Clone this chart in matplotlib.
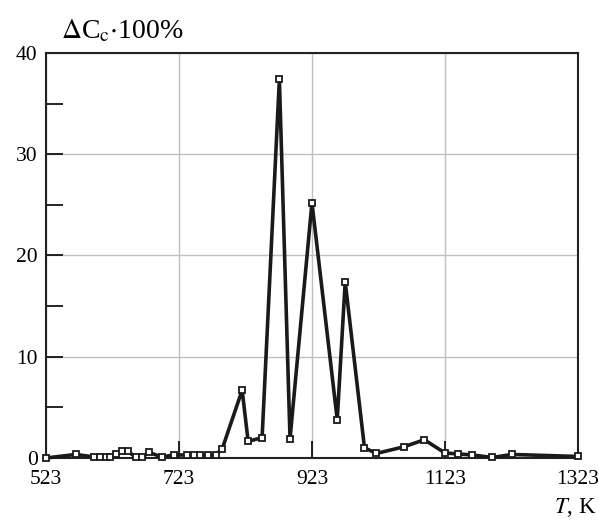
import numpy as np
import matplotlib.pyplot as plt
from matplotlib.ticker import MultipleLocator

# Temperature, K
temp = [523, 568, 595, 604, 613, 620, 629, 637, 646, 658, 668, 678, 697,
        715, 735, 745, 755, 767, 778, 788, 818, 827, 848, 874, 890, 923,
        961, 973, 1002, 1020, 1061, 1092, 1123, 1142, 1164, 1194, 1224, 1323]
# Delta C_c * 100 %
dcc = [0.0, 0.35, 0.1, 0.1, 0.1, 0.1, 0.35, 0.65, 0.65, 0.1, 0.1, 0.55, 0.1,
       0.3, 0.3, 0.3, 0.3, 0.3, 0.3, 0.9, 6.7, 1.65, 2.0, 37.4, 1.9, 25.2,
       3.8, 17.4, 1.0, 0.45, 1.1, 1.8, 0.5, 0.4, 0.3, 0.05, 0.35, 0.15]
xticks = [523, 723, 923, 1123, 1323]
yticks = [0, 10, 20, 30, 40]

plt.rcParams['font.family'] = ['Liberation Serif', 'DejaVu Serif']
plt.rcParams['mathtext.fontset'] = 'stix'

fig = plt.figure(figsize=(5.99, 5.23), dpi=100)
ax = fig.add_axes([0.0768, 0.1243, 0.888, 0.7744])

ax.plot(temp, dcc, color='#1a1a1a', lw=2.6, marker='s', markersize=5,
        markerfacecolor='white', markeredgecolor='#1a1a1a', markeredgewidth=1.3,
        clip_on=False, zorder=3)

ax.set_xlim(523, 1323)
ax.set_ylim(0, 40)
ax.set_xticks(xticks)
ax.set_yticks(yticks)
ax.yaxis.set_minor_locator(MultipleLocator(5))
ax.grid(True, which='major', color='#c0c0c0', lw=1.0)
ax.tick_params(which='major', direction='in', length=12, width=1.2,
               labelsize=15.5, pad=6)
ax.tick_params(which='minor', direction='in', length=12, width=1.2)
ax.tick_params(axis='x', pad=9)
for s in ax.spines.values():
    s.set_linewidth(1.5)
    s.set_color('#222222')

fig.text(0.102, 0.94, r'$\Delta$C$_\mathrm{c}$$\cdot$100%', fontsize=20,
         ha='left', va='center')
fig.text(0.995, 0.03, r'$\mathit{T}$, K', fontsize=16.5, ha='right', va='center')

fig.savefig('out.png', dpi=100)
